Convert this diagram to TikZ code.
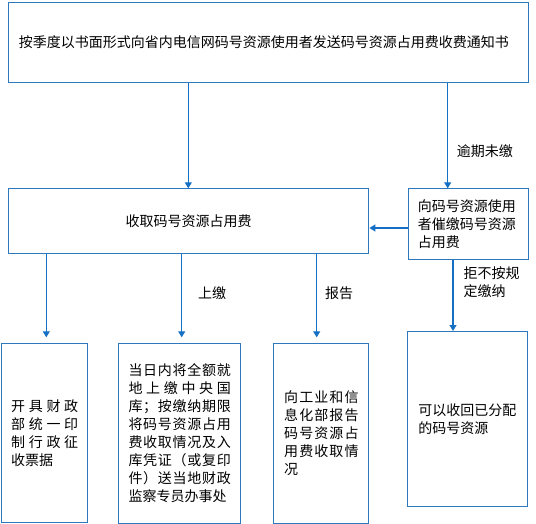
\documentclass[tikz,border=0pt]{standalone}
\usepackage{fontspec}
\setmainfont{Noto Sans CJK SC}
\usetikzlibrary{arrows.meta}
\setlength\parindent{0pt}
\newcommand\jline[2]{\leavevmode\hbox to #1{#2}}
\definecolor{lineblue}{RGB}{20,112,196}
\definecolor{boxblue}{RGB}{46,120,190}
\tikzset{
  box/.style={draw=boxblue, line width=1.1pt, rectangle, inner sep=0pt, anchor=north west},
  arr/.style={draw=lineblue, line width=1.2pt, -{Triangle[length=6pt,width=7pt]}},
  lab/.style={inner sep=0pt, anchor=west, align=left},
}
\begin{document}
\begin{tikzpicture}[x=1pt,y=-1pt,font=\fontsize{14}{18}\selectfont]
\useasboundingbox (0,0) rectangle (536,524);
% boxes
\node[box, minimum width=520pt, minimum height=80pt, text width=499.4pt, align=left] (top) at (8,2)
  {按季度以书面形式向省内电信网码号资源使用者发送码号资源占用费收费通知书};
\node[box, minimum width=360.3pt, minimum height=64.7pt, align=center] (coll) at (8,188.3)
  {收取码号资源占用费};
\node[box, minimum width=120.3pt, minimum height=70.7pt, text width=101pt, align=left] (urge) at (407.7,188.3)
  {向码号资源使用\\者催缴码号资源\\占用费};
\node[box, minimum width=86.3pt, minimum height=178.7pt, text width=67pt, align=left] (left) at (1,343.3)
  {\jline{67pt}{开\hfill 具\hfill 财\hfill 政}\\
   \jline{67pt}{部\hfill 统\hfill 一\hfill 印}\\
   \jline{67pt}{制\hfill 行\hfill 政\hfill 征}\\
   收票据};
\node[box, minimum width=121.7pt, minimum height=179.4pt, text width=102.4pt, align=left] (mid) at (118.3,343.3)
  {\jline{102.4pt}{当\hfill 日\hfill 内\hfill 将\hfill 全\hfill 额\hfill 就}\\
   \jline{102.4pt}{地\hfill 上\hfill 缴\hfill 中\hfill 央\hfill 国}\\
   \jline{102.4pt}{库\hfill ；\hfill 按\hfill 缴\hfill 纳\hfill 期\hfill 限}\\
   \jline{102.4pt}{将\hfill 码\hfill 号\hfill 资\hfill 源\hfill 占\hfill 用}\\
   \jline{102.4pt}{费\hfill 收\hfill 取\hfill 情\hfill 况\hfill 及\hfill 入}\\
   \jline{102.4pt}{库\hfill 凭\hfill 证\hfill （\hfill 或\hfill 复\hfill 印}\\
   \jline{102.4pt}{件\hfill ）\hfill 送\hfill 当\hfill 地\hfill 财\hfill 政}\\
   监察专员办事处};
\node[box, minimum width=95pt, minimum height=179.4pt, text width=74.3pt, align=left] (rep) at (273.3,343.3)
  {\jline{74.3pt}{向\hfill 工\hfill 业\hfill 和\hfill 信}\\
   \jline{74.3pt}{息\hfill 化\hfill 部\hfill 报\hfill 告}\\
   \jline{74.3pt}{码\hfill 号\hfill 资\hfill 源\hfill 占}\\
   \jline{74.3pt}{用\hfill 费\hfill 收\hfill 取\hfill 情}\\
   况};
\node[box, minimum width=120pt, minimum height=175pt, text width=99pt, align=left] (recall) at (407.3,331)
  {可以收回已分配\\的码号资源};
% x positions of connectors
\coordinate (xa) at (188.3,0);
\coordinate (xb) at (447.7,0);
\coordinate (xc) at (453,0);
\coordinate (xd) at (46.3,0);
\coordinate (xe) at (181.7,0);
\coordinate (xf) at (316.7,0);
\coordinate (ya) at (0,228);
% connectors
\draw[arr] (top.south -| xa) -- (coll.north -| xa);
\draw[arr] (top.south -| xb) -- (urge.north -| xb);
\draw[arr] (urge.west |- ya) -- (coll.east |- ya);
\draw[arr] (urge.south -| xc) -- (recall.north -| xc);
\draw[arr, shorten >=6pt] (coll.south -| xd) -- (left.north -| xd);
\draw[arr, shorten >=6pt] (coll.south -| xe) -- (mid.north -| xe);
\draw[arr, shorten >=6pt] (coll.south -| xf) -- (rep.north -| xf);
% labels
\node[lab] (l1) at (456.7,150.7) {逾期未缴};
\node[lab, anchor=north west] (l2) at (463.3,266) {拒不按规\\定缴纳};
\node[lab] (l3) at (198,293) {上缴};
\node[lab] (l4) at (325,293) {报告};
\end{tikzpicture}
\end{document}
